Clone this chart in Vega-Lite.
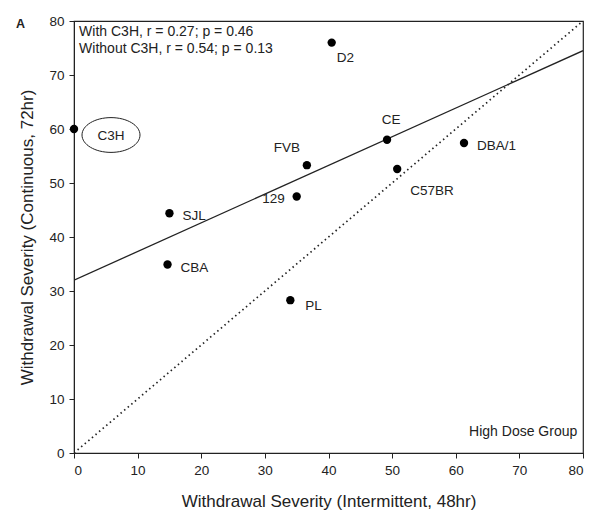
{
  "$schema": "https://vega.github.io/schema/vega-lite/v6.json",
  "width": 509,
  "height": 432,
  "autosize": {"type": "none"},
  "padding": {"left": 74, "top": 21, "right": 17, "bottom": 67},
  "background": "white",
  "config": {
    "font": "Liberation Sans",
    "view": {"stroke": "#222", "strokeWidth": 1.2},
    "axis": {
      "grid": false,
      "domainColor": "#222",
      "tickColor": "#222",
      "tickSize": 5,
      "labelColor": "#222",
      "titleColor": "#222",
      "labelFontSize": 13.5,
      "titleFontSize": 17,
      "titleFontWeight": "normal",
      "labelFont": "Liberation Sans",
      "titleFont": "Liberation Sans"
    }
  },
  "title": {
    "text": "A",
    "anchor": "start",
    "frame": "group",
    "orient": "top",
    "dx": -58,
    "offset": -22,
    "baseline": "middle",
    "fontSize": 12.5,
    "fontWeight": "bold",
    "color": "#222"
  },
  "datasets": {
    "strains": [
      {"strain": "C3H", "intermittent": 0, "continuous": 60},
      {"strain": "D2", "intermittent": 40.5, "continuous": 76},
      {"strain": "CE", "intermittent": 49.2, "continuous": 58},
      {"strain": "FVB", "intermittent": 36.6, "continuous": 53.3},
      {"strain": "129", "intermittent": 35, "continuous": 47.5},
      {"strain": "SJL", "intermittent": 15, "continuous": 44.4},
      {"strain": "CBA", "intermittent": 14.7, "continuous": 34.9},
      {"strain": "PL", "intermittent": 34, "continuous": 28.3},
      {"strain": "C57BR", "intermittent": 50.8, "continuous": 52.6},
      {"strain": "DBA/1", "intermittent": 61.3, "continuous": 57.4}
    ],
    "fit": [
      {"intermittent": 0, "continuous": 32.0},
      {"intermittent": 80, "continuous": 74.5}
    ],
    "identity": [
      {"intermittent": 0, "continuous": 0},
      {"intermittent": 80, "continuous": 80}
    ],
    "notes": [
      {"note": "With C3H, r = 0.27; p = 0.46"}
    ],
    "notes2": [
      {"note": "Without C3H, r = 0.54; p = 0.13"}
    ],
    "notes3": [
      {"note": "High Dose Group"}
    ]
  },
  "layer": [
    {
      "data": {"name": "identity"},
      "mark": {"type": "line", "color": "#222", "strokeWidth": 1.7, "strokeDash": [1.5, 3.2], "clip": true},
      "encoding": {
        "x": {
          "field": "intermittent",
          "type": "quantitative",
          "scale": {"domain": [0, 80], "nice": false},
          "axis": {"values": [0, 10, 20, 30, 40, 50, 60, 70, 80], "title": "Withdrawal Severity (Intermittent, 48hr)", "titlePadding": 17, "labelPadding": 5}
        },
        "y": {
          "field": "continuous",
          "type": "quantitative",
          "scale": {"domain": [0, 80], "nice": false},
          "axis": {"values": [0, 10, 20, 30, 40, 50, 60, 70, 80], "title": "Withdrawal Severity (Continuous, 72hr)", "titlePadding": 12, "labelPadding": 5}
        }
      }
    },
    {
      "data": {"name": "fit"},
      "mark": {"type": "line", "color": "#222", "strokeWidth": 1.3, "clip": true},
      "encoding": {
        "x": {"field": "intermittent", "type": "quantitative"},
        "y": {"field": "continuous", "type": "quantitative"}
      }
    },
    {
      "data": {"name": "strains"},
      "encoding": {
        "x": {"field": "intermittent", "type": "quantitative"},
        "y": {"field": "continuous", "type": "quantitative"}
      },
      "layer": [
        {
          "mark": {"type": "point", "filled": true, "color": "#000", "size": 70, "opacity": 1}
        },
        {
          "transform": [{"filter": "datum.strain === 'C3H'"}],
          "mark": {"type": "point", "shape": "M -1 0 A 1 0.6 0 1 1 1 0 A 1 0.6 0 1 1 -1 0 Z", "size": 3364, "filled": false, "stroke": "#222", "strokeWidth": 1, "opacity": 1, "xOffset": 37, "yOffset": 6}
        },
        {
          "transform": [{"filter": "datum.strain === 'C3H'"}],
          "mark": {"type": "text", "fontSize": 13.5, "color": "#222", "align": "center", "baseline": "middle", "dx": 37, "dy": 7},
          "encoding": {"text": {"field": "strain"}}
        },
        {
          "transform": [{"filter": "datum.strain === 'SJL' || datum.strain === 'CBA' || datum.strain === 'DBA/1'"}],
          "mark": {"type": "text", "fontSize": 13.5, "color": "#222", "align": "left", "baseline": "middle", "dx": 13, "dy": 3},
          "encoding": {"text": {"field": "strain"}}
        },
        {
          "transform": [{"filter": "datum.strain === 'PL'"}],
          "mark": {"type": "text", "fontSize": 13.5, "color": "#222", "align": "left", "baseline": "middle", "dx": 15, "dy": 6},
          "encoding": {"text": {"field": "strain"}}
        },
        {
          "transform": [{"filter": "datum.strain === 'C57BR'"}],
          "mark": {"type": "text", "fontSize": 13.5, "color": "#222", "align": "left", "baseline": "middle", "dx": 13, "dy": 22},
          "encoding": {"text": {"field": "strain"}}
        },
        {
          "transform": [{"filter": "datum.strain === 'CE'"}],
          "mark": {"type": "text", "fontSize": 13.5, "color": "#222", "align": "center", "baseline": "middle", "dx": 4, "dy": -20},
          "encoding": {"text": {"field": "strain"}}
        },
        {
          "transform": [{"filter": "datum.strain === 'FVB'"}],
          "mark": {"type": "text", "fontSize": 13.5, "color": "#222", "align": "center", "baseline": "middle", "dx": -20, "dy": -17},
          "encoding": {"text": {"field": "strain"}}
        },
        {
          "transform": [{"filter": "datum.strain === '129'"}],
          "mark": {"type": "text", "fontSize": 13.5, "color": "#222", "align": "right", "baseline": "middle", "dx": -12, "dy": 2},
          "encoding": {"text": {"field": "strain"}}
        },
        {
          "transform": [{"filter": "datum.strain === 'D2'"}],
          "mark": {"type": "text", "fontSize": 13.5, "color": "#222", "align": "left", "baseline": "middle", "dx": 5, "dy": 15},
          "encoding": {"text": {"field": "strain"}}
        }
      ]
    },
    {
      "data": {"name": "notes"},
      "mark": {"type": "text", "fontSize": 14, "color": "#222", "align": "left", "baseline": "middle"},
      "encoding": {
        "x": {"datum": 0.8, "type": "quantitative"},
        "y": {"datum": 77.9, "type": "quantitative"},
        "text": {"field": "note"}
      }
    },
    {
      "data": {"name": "notes2"},
      "mark": {"type": "text", "fontSize": 14, "color": "#222", "align": "left", "baseline": "middle"},
      "encoding": {
        "x": {"datum": 0.8, "type": "quantitative"},
        "y": {"datum": 74.9, "type": "quantitative"},
        "text": {"field": "note"}
      }
    },
    {
      "data": {"name": "notes3"},
      "mark": {"type": "text", "fontSize": 14, "color": "#222", "align": "right", "baseline": "middle"},
      "encoding": {
        "x": {"datum": 79.1, "type": "quantitative"},
        "y": {"datum": 3.9, "type": "quantitative"},
        "text": {"field": "note"}
      }
    }
  ]
}
